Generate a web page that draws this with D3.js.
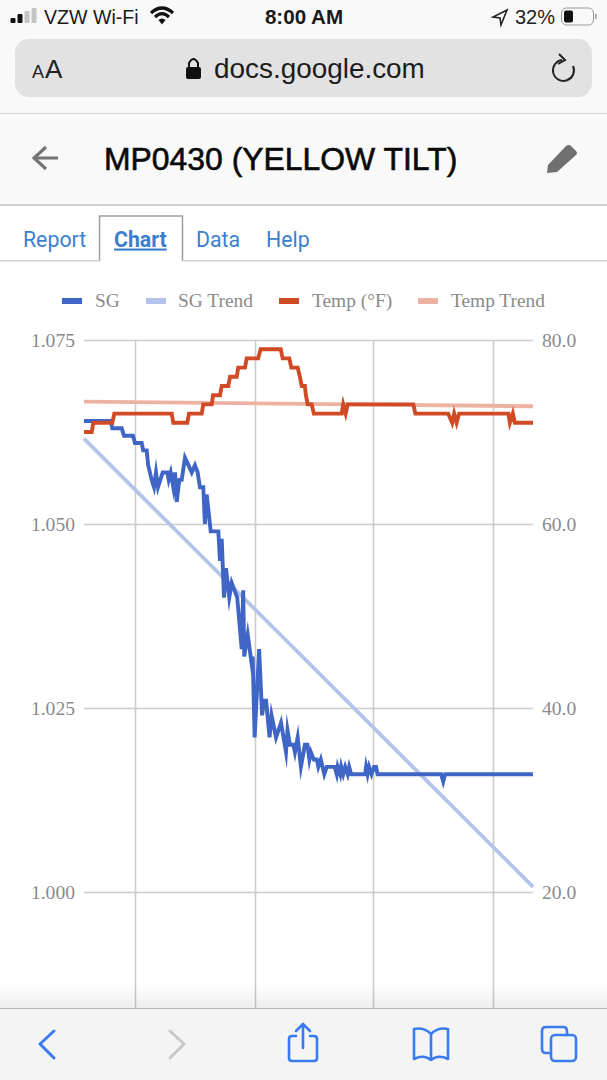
<!DOCTYPE html>
<html><head><meta charset="utf-8">
<script src="https://cdn.jsdelivr.net/npm/d3@7/dist/d3.min.js"></script>
<style>html,body{margin:0;padding:0;background:#fff;overflow:hidden}svg{display:block}</style>
</head><body><svg id="c" width="607" height="1080" viewBox="0 0 607 1080"></svg>
<script>
const sgHours=[0,5.37,5.69,7.58,8.04,9.85,10.25,11.6,11.9,12.6,12.9,13.6,14.07,14.47,14.87,15.82,16.74,17.02,17.43,17.95,18.29,18.63,19.16,19.64,20.3,21,21.65,22.3,22.85,23.3,23.98,24.3,24.66,25.47,27,27.34,27.68,28.14,28.54,29.2,29.69,30.8,31.7,32,32.2,32.9,33.7,33.9,34.3,35.2,35.8,36.2,36.6,37.3,37.7,38.6,39.6,40.6,40.9,41.4,42.1,42.4,42.95,43.6,44.4,44.9,45.3,45.6,46.2,46.8,47.1,47.6,48.3,48.8,50.4,50.8,51,51.5,51.7,52.1,52.5,53,53.3,53.7,56.5,56.7,57,57.3,57.8,58.3,58.7,59,71.8,72.2,72.6,90.25];
const sgValues=[1.064,1.064,1.063,1.063,1.062,1.062,1.061,1.061,1.060,1.060,1.058,1.056,1.055,1.057,1.055,1.057,1.057,1.056,1.057,1.055,1.057,1.053,1.056,1.056,1.059,1.058,1.057,1.058,1.057,1.055,1.055,1.050,1.054,1.049,1.049,1.045,1.048,1.040,1.044,1.040,1.042,1.040,1.033,1.041,1.032,1.035,1.031,1.032,1.021,1.033,1.024,1.026,1.026,1.021,1.024,1.021,1.023,1.019,1.022,1.020,1.020,1.019,1.021,1.017,1.020,1.020,1.018,1.019,1.018,1.018,1.017,1.018,1.016,1.017,1.017,1.016,1.017,1.016,1.017,1.016,1.017,1.016,1.017,1.016,1.016,1.017,1.016,1.017,1.016,1.017,1.017,1.016,1.016,1.015,1.016,1.016];
const tempHours=[0,1.55,1.87,5.69,6.09,17.63,17.95,20.76,21.1,23.66,23.98,25.67,25.93,27.34,27.68,29,29.35,30.7,31,32.36,32.7,35,35.5,39.54,39.94,41.27,41.67,42.95,43.4,43.76,44.4,44.6,44.96,45.77,46.2,51.8,52.1,52.6,53,66.2,66.6,73.2,74,74.4,74.9,75.4,85.3,85.6,86.2,86.6,90.25];
const tempValues=[70,70,71,71,72,72,71,71,72,72,73,73,74,74,75,75,76,76,77,77,78,78,79,79,78,78,77,77,76,75,75,74,73,73,72,72,73,72,73,73,72,72,71,72,71,72,72,71,72,71,71];
const trendHours=[0,90.25];
const sgTrend=[1.0616,1.0007];
const tempTrend=[73.3,72.8];
const sgTicks=[1.000,1.025,1.050,1.075];
const tempTicks=[20,40,60,80];
const gridHours=[10.25,34.37,58.09,82.2];
const legendLabels=["SG","SG Trend","Temp (°F)","Temp Trend"];
const legendColors=["#3f66c6","#b3c3ea","#d04a26","#ecb3a3"];
const tabLabels=["Report","Chart","Data","Help"];

const svg=d3.select("#c");
const SANS="'Liberation Sans',Arial,sans-serif", SERIF="'Liberation Serif','Times New Roman',serif";
const x=d3.scaleLinear().domain([0,90.25]).range([84,533]);
const yL=d3.scaleLinear().domain([1.000,1.075]).range([892,340]);
const yR=d3.scaleLinear().domain([20,80]).range([892,340]);

const defs=svg.append("defs");
const g=defs.append("linearGradient").attr("id","fade").attr("x1",0).attr("x2",0).attr("y1",0).attr("y2",1);
g.append("stop").attr("offset",0).attr("stop-color","#000").attr("stop-opacity",0);
g.append("stop").attr("offset",1).attr("stop-color","#000").attr("stop-opacity",0.07);

svg.append("rect").attr("width",607).attr("height",205).attr("fill","#f9f9f9");
svg.append("rect").attr("y",113).attr("width",607).attr("height",1).attr("fill","#d6d6d6");
svg.append("rect").attr("y",204).attr("width",607).attr("height",2).attr("fill","#cfcfcf");
[[11,14,5],[18,11,8],[25,8,11],[32,5,14]].forEach((b,i)=>svg.append("rect").attr("x",b[0]-.5).attr("y",23-b[2]-(i?1:0)).attr("width",5).attr("height",b[2]+(i?1:0)).attr("rx",1).attr("fill",i<2?"#111":"#c4c4c4"));
const txt=(t,xx,yy,size,o={})=>svg.append("text").text(t).attr("x",xx).attr("y",yy).attr("font-size",size).attr("font-family",o.f||SANS).attr("fill",o.c||"#111").attr("font-weight",o.w||400).attr("text-anchor",o.a||"start");
txt("VZW Wi-Fi",44,24,19.6,{c:"#1a1a1a"});
const wifi=svg.append("g").attr("fill","none").attr("stroke","#111").attr("stroke-width",3.2);
wifi.append("path").attr("d","M151 13 Q162 3 173 13");
wifi.append("path").attr("d","M155 17 Q162 10 169 17");
svg.append("path").attr("d","M158.5 20 Q162 17 165.5 20 L162 24.5Z").attr("fill","#111");
txt("8:00 AM",304,24,20.6,{a:"middle",w:700,c:"#1a1a1a"});
svg.append("path").attr("d","M507 10 L493 17 L500 18 L501 25 Z").attr("fill","none").attr("stroke","#222").attr("stroke-width",1.6);
txt("32%",515,24,20,{c:"#222"});
svg.append("rect").attr("x",561.5).attr("y",8).attr("width",32).attr("height",17).attr("rx",5).attr("fill","none").attr("stroke","#999");
svg.append("rect").attr("x",564).attr("y",10.5).attr("width",9).attr("height",12).attr("rx",2).attr("fill","#111");
svg.append("rect").attr("x",595).attr("y",14).attr("width",1.5).attr("height",5).attr("fill","#999");
svg.append("rect").attr("x",15).attr("y",39).attr("width",577).attr("height",58).attr("rx",14).attr("fill","#e2e2e2");
txt("A",32,78,18,{c:"#222"});
txt("A",45,78,26,{c:"#222"});
svg.append("rect").attr("x",186).attr("y",67).attr("width",15).attr("height",12).attr("rx",2).attr("fill","#111");
svg.append("path").attr("d","M189 68 V63 Q193.5 55 198 63 V68").attr("fill","none").attr("stroke","#111").attr("stroke-width",2);
txt("docs.google.com",214,78,27.9,{c:"#1c1c1c"});
svg.append("path").attr("d","M562 60 A10.5 10.5 0 1 0 573 66").attr("fill","none").attr("stroke","#222").attr("stroke-width",2);
svg.append("path").attr("d","M559 54 L565 60 L558 64").attr("fill","none").attr("stroke","#222").attr("stroke-width",2);
svg.append("path").attr("d","M58 158 H35 M46 147 L34 158 L46 169").attr("fill","none").attr("stroke","#757575").attr("stroke-width",3.2);
txt("MP0430 (YELLOW TILT)",104,170,31.9,{c:"#0a0a0a",w:400}).attr("stroke","#0a0a0a").attr("stroke-width",.6);
svg.append("path").attr("d","M547 173 L548 165 L566 146 Q569 144 571 146 L576 151 Q578 153 576 155 L557 172 Z").attr("fill","#707070");
svg.append("rect").attr("x",99.5).attr("y",216).attr("width",83).attr("height",44).attr("fill","#fff").attr("stroke","#9e9e9e").attr("stroke-width",1.5);
svg.append("rect").attr("y",260).attr("width",607).attr("height",1.5).attr("fill","#d2d2d2");
svg.append("rect").attr("x",100.5).attr("y",259).attr("width",81).attr("height",3).attr("fill","#fff");
const tabX=[23,114,196,266];
tabLabels.forEach((t,i)=>{const e=txt(t,tabX[i],246.5,21.3,{c:"#3b7fcf",w:i==1?700:400,f:"Roboto,"+SANS});if(i==1)e.attr("text-decoration","underline");});

const legX=[62,146,279,418], legT=[95,178,312,451];
legendLabels.forEach((t,i)=>{
  svg.append("rect").attr("x",legX[i]).attr("y",298).attr("width",20).attr("height",6).attr("fill",legendColors[i]);
  txt(t,legT[i],307,19.4,{f:SERIF,c:"#8a8a8a"});
});

const gridG=svg.append("g").attr("transform","translate(0,1008)")
  .call(d3.axisBottom(x).tickValues(gridHours).tickSize(-668).tickFormat(""));
gridG.select(".domain").remove();
gridG.selectAll("line").attr("stroke","#cccccc").attr("stroke-width",1.6);
const gl=svg.append("g").attr("transform","translate(84,0)")
  .call(d3.axisLeft(yL).tickValues(sgTicks).tickSize(0).tickPadding(9).tickFormat(d3.format(".3f")));
gl.select(".domain").remove();
gl.selectAll("text").attr("font-family",SERIF).attr("font-size",19.6).attr("fill","#8a8a8a");
const gr=svg.append("g").attr("transform","translate(533,0)")
  .call(d3.axisRight(yR).tickValues(tempTicks).tickSize(0).tickPadding(9).tickFormat(d3.format(".1f")));
gr.select(".domain").remove();
gr.selectAll("text").attr("font-family",SERIF).attr("font-size",19.6).attr("fill","#8a8a8a");
const hg=svg.append("g").attr("transform","translate(84,0)")
  .call(d3.axisRight(yL).tickValues(sgTicks).tickSize(449).tickFormat(""));
hg.select(".domain").remove();
hg.selectAll("line").attr("stroke","#cccccc").attr("stroke-width",1.6);

const line=(xs,ys,sc)=>d3.line().x((d,i)=>x(xs[i])).y((d,i)=>sc(ys[i]))(ys);
const draw=(xs,ys,sc,col,w)=>svg.append("path").attr("d",line(xs,ys,sc)).attr("fill","none").attr("stroke",col).attr("stroke-width",w).attr("stroke-linejoin","miter").attr("stroke-miterlimit",9);
draw(trendHours,sgTrend,yL,"#b3c3ea",3.8);
draw(trendHours,tempTrend,yR,"#ecb3a3",3.8);
draw(sgHours,sgValues,yL,"#3f66c6",3.9);
draw(tempHours,tempValues,yR,"#d04a26",3.9);

svg.append("rect").attr("y",984).attr("width",607).attr("height",24).attr("fill","url(#fade)");
svg.append("rect").attr("y",1008).attr("width",607).attr("height",72).attr("fill","#f4f4f4");
svg.append("rect").attr("y",1008).attr("width",607).attr("height",1).attr("fill","#b4b4b4");
const blue="#3a7cf0";
const ic=(d,c=blue,w=2.6)=>svg.append("path").attr("d",d).attr("fill","none").attr("stroke",c).attr("stroke-width",w).attr("stroke-linecap","round").attr("stroke-linejoin","round");
ic("M54 1031 L40 1044 L54 1058",blue,3);
ic("M170 1031 L184 1044 L170 1058","#c8c8c8",3);
ic("M296 1036 H292 Q289 1036 289 1039 V1058 Q289 1061 292 1061 H314 Q317 1061 317 1058 V1039 Q317 1036 314 1036 H310");
ic("M303 1048 V1025 M296 1031 L303 1024 L310 1031");
ic("M431 1034 Q424 1027 414 1029 V1059 Q424 1054 431 1060 Q438 1054 448 1059 V1029 Q438 1027 431 1034 V1060");
ic("M550 1053 H546 Q542 1053 542 1049 V1031 Q542 1027 546 1027 H563 Q567 1027 567 1031 V1035");
svg.append("rect").attr("x",551).attr("y",1035).attr("width",25).attr("height",26).attr("rx",4).attr("fill","none").attr("stroke",blue).attr("stroke-width",2.6);
</script></body></html>
